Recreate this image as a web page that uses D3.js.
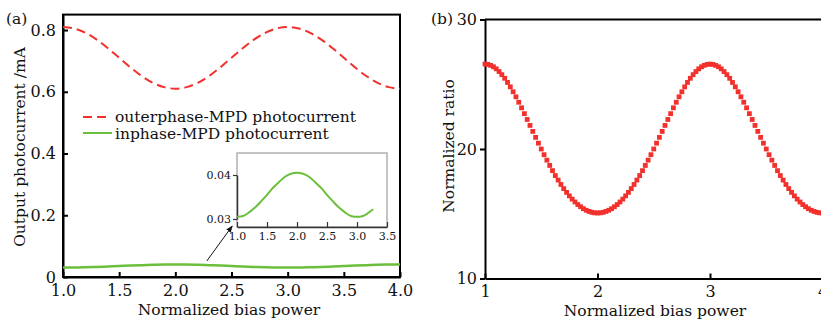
<!DOCTYPE html>
<html><head><meta charset="utf-8">
<script src="https://cdn.jsdelivr.net/npm/d3@7"></script>
<style>body{margin:0;background:#fff}svg{display:block}text{font-family:"DejaVu Serif",serif;fill:#111}</style>
</head><body>
<script>
// ---- data ----
const biasA = [1.0,1.1,1.2,1.3,1.4,1.5,1.6,1.7,1.8,1.9,2.0,2.1,2.2,2.3,2.4,2.5,2.6,2.7,2.8,2.9,3.0,3.1,3.2,3.3,3.4,3.5,3.6,3.7,3.8,3.9,4.0];
const outerphase = [0.81,0.805,0.791,0.769,0.741,0.71,0.679,0.651,0.629,0.615,0.61,0.615,0.629,0.651,0.679,0.71,0.741,0.769,0.791,0.805,0.81,0.805,0.791,0.769,0.741,0.71,0.679,0.651,0.629,0.615,0.61];
const inphase = [0.0305,0.0307,0.0315,0.0326,0.0340,0.0355,0.0371,0.0384,0.0396,0.0403,0.0405,0.0403,0.0396,0.0384,0.0371,0.0355,0.0340,0.0326,0.0315,0.0307,0.0305,0.0307,0.0315,0.0326,0.0340,0.0355,0.0371,0.0384,0.0396,0.0403,0.0405];
const insetBias = [1.0,1.1,1.2,1.3,1.4,1.5,1.6,1.7,1.8,1.9,2.0,2.1,2.2,2.3,2.4,2.5,2.6,2.7,2.8,2.9,3.0,3.1,3.2,3.27];
const insetInphase = [0.0305,0.0307,0.0315,0.0326,0.0340,0.0355,0.0371,0.0384,0.0396,0.0403,0.0405,0.0403,0.0396,0.0384,0.0371,0.0355,0.0340,0.0326,0.0315,0.0307,0.0305,0.0307,0.0315,0.0322];
const ratio = [26.56,26.53,26.46,26.35,26.19,25.98,25.74,25.46,25.14,24.80,24.42,24.03,23.61,23.18,22.73,22.28,21.82,21.36,20.90,20.45,20.00,19.56,19.14,18.73,18.33,17.95,17.60,17.26,16.94,16.65,16.38,16.13,15.91,15.71,15.54,15.39,15.27,15.18,15.11,15.07,15.06,
 15.07,15.11,15.18,15.27,15.39,15.54,15.71,15.91,16.13,16.38,16.65,16.94,17.26,17.60,17.95,18.33,18.73,19.14,19.56,20.00,20.45,20.90,21.36,21.82,22.28,22.73,23.18,23.61,24.03,24.42,24.80,25.14,25.46,25.74,25.98,26.19,26.35,26.46,26.53,26.56,
 26.53,26.46,26.35,26.19,25.98,25.74,25.46,25.14,24.80,24.42,24.03,23.61,23.18,22.73,22.28,21.82,21.36,20.90,20.45,20.00,19.56,19.14,18.73,18.33,17.95,17.60,17.26,16.94,16.65,16.38,16.13,15.91,15.71,15.54,15.39,15.27,15.18,15.11,15.07,15.06];
const biasB = ratio.map((_, i) => 1 + i * 0.025);
const ticksA_x = [1.0,1.5,2.0,2.5,3.0,3.5,4.0];
const ticksA_y = [0,0.2,0.4,0.6,0.8];
const ticksInset_x = [1.0,1.5,2.0,2.5,3.0,3.5];
const ticksInset_y = [0.03,0.04];
const ticksB_x = [1,2,3,4];
const ticksB_y = [10,20,30];

const RED = "#f2302c", GREEN = "#6cbf3c";
const svg = d3.select("body").append("svg").attr("width",821).attr("height",322);

// ---------- panel (a) ----------
const xA = d3.scaleLinear().domain([1,4]).range([63,400]);
const yA = d3.scaleLinear().domain([0,0.85]).range([277,14.6]);
const gA = svg.append("g");
gA.append("rect").attr("x",63).attr("y",yA(0.85)).attr("width",400-63).attr("height",277-yA(0.85))
  .attr("fill","none").attr("stroke","#000").attr("stroke-width",2);
const axXA = d3.axisBottom(xA).tickValues(ticksA_x).tickFormat(d3.format(".1f")).tickSizeInner(-5).tickSizeOuter(0).tickPadding(8);
gA.append("g").attr("transform","translate(0,277)").call(axXA)
  .call(g=>{g.select(".domain").attr("stroke-width",2);g.selectAll("line").attr("stroke-width",2);g.selectAll("text").attr("font-family","DejaVu Serif").attr("font-size",16).attr("fill","#111");});
const axYA = d3.axisLeft(yA).tickValues(ticksA_y).tickFormat(d=>d===0?"0":d3.format(".1f")(d)).tickSizeInner(-5).tickSizeOuter(0).tickPadding(7);
gA.append("g").attr("transform","translate(63,0)").call(axYA)
  .call(g=>{g.select(".domain").attr("stroke-width",2);g.selectAll("line").attr("stroke-width",2);g.selectAll("text").attr("font-family","DejaVu Serif").attr("font-size",16).attr("fill","#111");});
gA.append("path").datum(biasA.map((x,i)=>[x,outerphase[i]]))
  .attr("d",d3.line().x(d=>xA(d[0])).y(d=>yA(d[1])).curve(d3.curveMonotoneX))
  .attr("fill","none").attr("stroke",RED).attr("stroke-width",2).attr("stroke-dasharray","9,5");
gA.append("path").datum(biasA.map((x,i)=>[x,inphase[i]]))
  .attr("d",d3.line().x(d=>xA(d[0])).y(d=>yA(d[1])).curve(d3.curveMonotoneX))
  .attr("fill","none").attr("stroke",GREEN).attr("stroke-width",2.5);
// legend
gA.append("line").attr("x1",83).attr("x2",111).attr("y1",117).attr("y2",117).attr("stroke",RED).attr("stroke-width",2).attr("stroke-dasharray","9,5");
gA.append("text").attr("x",115).attr("y",122).attr("font-size",15.5).text("outerphase-MPD photocurrent");
gA.append("line").attr("x1",83).attr("x2",112).attr("y1",133).attr("y2",133).attr("stroke",GREEN).attr("stroke-width",2);
gA.append("text").attr("x",115).attr("y",138.5).attr("font-size",15.5).text("inphase-MPD photocurrent");
// titles
gA.append("text").attr("x",229).attr("y",315).attr("text-anchor","middle").attr("font-size",15.5).text("Normalized bias power");
gA.append("text").attr("transform","translate(25,147) rotate(-90)").attr("text-anchor","middle").attr("font-size",15.5).text("Output photocurrent /mA");
gA.append("text").attr("x",6).attr("y",24).attr("font-size",15.5).text("(a)");

// inset
const xI = d3.scaleLinear().domain([1,3.5]).range([237,387]);
const yI = d3.scaleLinear().domain([0.03,0.04]).range([219,175]);
const gI = svg.append("g");
gI.append("rect").attr("x",237).attr("y",153).attr("width",150).attr("height",74).attr("fill","#fff").attr("stroke","#b0b0b0").attr("stroke-width",1.5);
const axXI = d3.axisBottom(xI).tickValues(ticksInset_x).tickFormat(d3.format(".1f")).tickSizeInner(-5).tickSizeOuter(0).tickPadding(5);
gI.append("g").attr("transform","translate(0,227)").call(axXI)
  .call(g=>{g.select(".domain").attr("stroke","#333").attr("stroke-width",1.5);g.selectAll("line").attr("stroke","#333").attr("stroke-width",1.2);g.selectAll("text").attr("font-family","Liberation Sans").attr("font-size",11).attr("fill","#222");});
const axYI = d3.axisLeft(yI).tickValues(ticksInset_y).tickFormat(d3.format(".2f")).tickSizeInner(4).tickSizeOuter(0).tickPadding(2);
gI.append("g").attr("transform","translate(237,0)").call(axYI)
  .call(g=>{g.select(".domain").attr("stroke","#333").attr("stroke-width",1.5);g.selectAll("line").attr("stroke","#333").attr("stroke-width",1.2);g.selectAll("text").attr("font-family","Liberation Sans").attr("font-size",11).attr("fill","#222");});
gI.append("path").datum(insetBias.map((x,i)=>[x,insetInphase[i]]))
  .attr("d",d3.line().x(d=>xI(d[0])).y(d=>yI(d[1])).curve(d3.curveMonotoneX))
  .attr("fill","none").attr("stroke",GREEN).attr("stroke-width",2);
// arrow
svg.append("defs").append("marker").attr("id","ah").attr("viewBox","0 0 10 10").attr("refX",9).attr("refY",5)
  .attr("markerWidth",7).attr("markerHeight",7).attr("orient","auto")
  .append("path").attr("d","M0,1 L10,5 L0,9 Z").attr("fill","#111");
svg.append("line").attr("x1",xA(2.28)).attr("y1",261).attr("x2",xI(0.92)).attr("y2",226)
  .attr("stroke","#111").attr("stroke-width",1).attr("marker-end","url(#ah)");

// ---------- panel (b) ----------
const xB = d3.scaleLinear().domain([1,4]).range([485,822.5]);
const yB = d3.scaleLinear().domain([10,30]).range([278.5,19.5]);
const gB = svg.append("g");
gB.append("line").attr("x1",485).attr("x2",825).attr("y1",19.5).attr("y2",19.5).attr("stroke","#000").attr("stroke-width",2);
const axXB = d3.axisBottom(xB).tickValues(ticksB_x).tickFormat(d3.format("d")).tickSizeInner(-5).tickSizeOuter(0).tickPadding(7);
gB.append("g").attr("transform","translate(0,278.5)").call(axXB)
  .call(g=>{g.select(".domain").attr("stroke-width",2);g.selectAll("line").attr("stroke-width",2);g.selectAll("text").attr("font-family","DejaVu Serif").attr("font-size",16).attr("fill","#111");});
const axYB = d3.axisLeft(yB).tickValues(ticksB_y).tickFormat(d3.format("d")).tickSizeInner(5).tickSizeOuter(0).tickPadding(3);
gB.append("g").attr("transform","translate(485,0)").call(axYB)
  .call(g=>{g.select(".domain").attr("stroke-width",2);g.selectAll("line").attr("stroke-width",2);g.selectAll("text").attr("font-family","DejaVu Serif").attr("font-size",16).attr("fill","#111");});
gB.selectAll("rect.pt").data(biasB.map((x,i)=>[x,ratio[i]])).join("rect").attr("class","pt")
  .attr("x",d=>xB(d[0])-2.4).attr("y",d=>yB(d[1])-2.4).attr("width",4.8).attr("height",4.8).attr("fill",RED);
gB.append("text").attr("x",655).attr("y",316).attr("text-anchor","middle").attr("font-size",15.5).text("Normalized bias power");
gB.append("text").attr("transform","translate(454,146) rotate(-90)").attr("text-anchor","middle").attr("font-size",15.5).text("Normalized ratio");
gB.append("text").attr("x",431).attr("y",24).attr("font-size",15.5).text("(b)");
</script>
</body></html>
